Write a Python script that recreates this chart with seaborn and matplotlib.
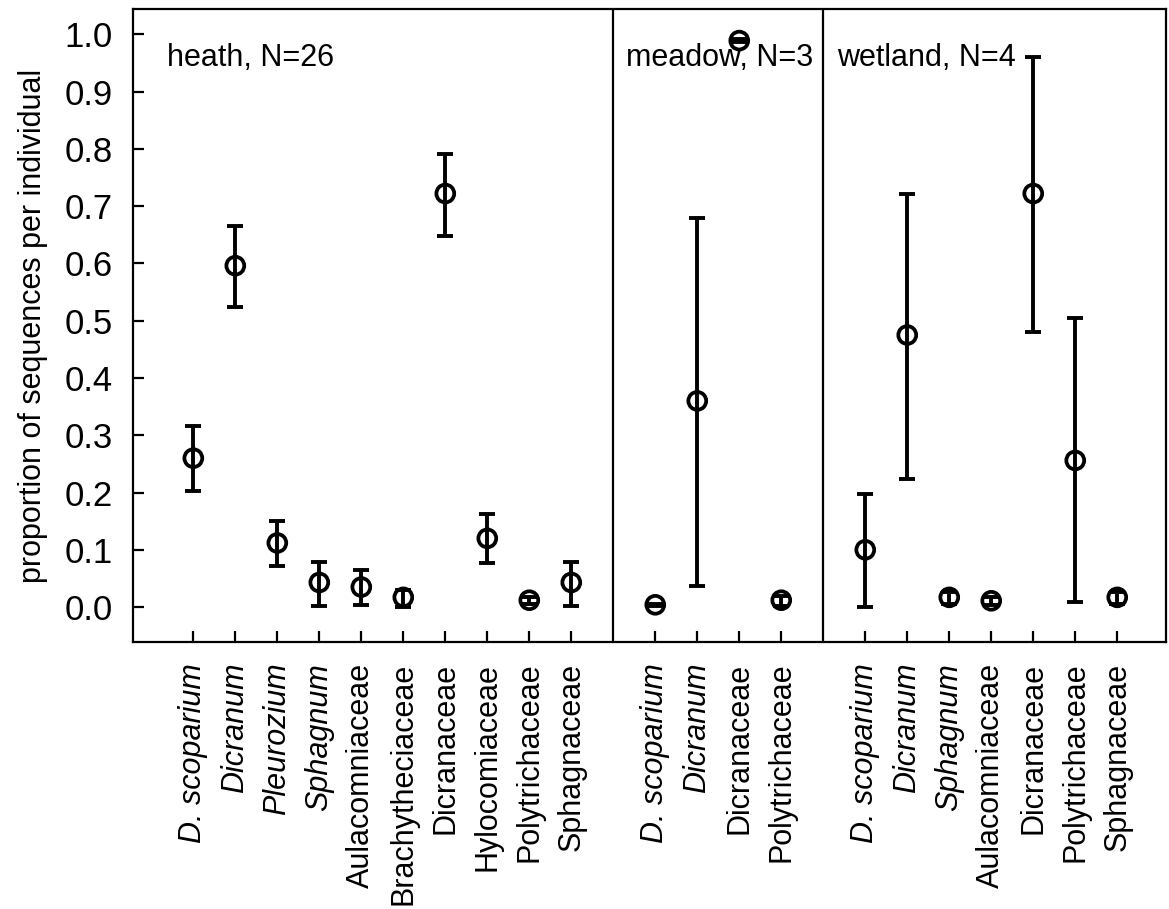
import numpy as np
import pandas as pd
import matplotlib
matplotlib.use("Agg")
import matplotlib.pyplot as plt
import seaborn as sns

# ---- data ----
heath_cats = ["D. scoparium", "Dicranum", "Pleurozium", "Sphagnum", "Aulacomniaceae",
              "Brachytheciaceae", "Dicranaceae", "Hylocomiaceae", "Polytrichaceae", "Sphagnaceae"]
heath_mean = [0.260, 0.596, 0.112, 0.043, 0.035, 0.017, 0.722, 0.120, 0.012, 0.043]
heath_lo = [0.202, 0.524, 0.072, 0.002, 0.004, 0.001, 0.647, 0.077, 0.006, 0.002]
heath_hi = [0.316, 0.666, 0.150, 0.078, 0.064, 0.030, 0.791, 0.162, 0.017, 0.079]

meadow_cats = ["D. scoparium", "Dicranum", "Dicranaceae", "Polytrichaceae"]
meadow_mean = [0.004, 0.360, 0.989, 0.012]
meadow_lo = [0.002, 0.037, 0.986, 0.002]
meadow_hi = [0.006, 0.679, 0.992, 0.020]

wetland_cats = ["D. scoparium", "Dicranum", "Sphagnum", "Aulacomniaceae",
                "Dicranaceae", "Polytrichaceae", "Sphagnaceae"]
wetland_mean = [0.100, 0.475, 0.017, 0.011, 0.722, 0.256, 0.017]
wetland_lo = [0.000, 0.224, 0.006, 0.004, 0.480, 0.009, 0.006]
wetland_hi = [0.197, 0.721, 0.027, 0.017, 0.961, 0.504, 0.027]

habitats = ["heath", "meadow", "wetland"]
habitat_n = [26, 3, 4]
y_ticks = [0.0, 0.1, 0.2, 0.3, 0.4, 0.5, 0.6, 0.7, 0.8, 0.9, 1.0]
y_label = "proportion of sequences per individual"

# ---- build table ----
groups = [(heath_cats, heath_mean, heath_lo, heath_hi),
          (meadow_cats, meadow_mean, meadow_lo, meadow_hi),
          (wetland_cats, wetland_mean, wetland_lo, wetland_hi)]
rows = []
dividers = []
starts = []
pos = 1
for gi, (cats, m, lo, hi) in enumerate(groups):
    starts.append(pos)
    for c, mm, l, h in zip(cats, m, lo, hi):
        rows.append(dict(habitat=habitats[gi], taxon=c, x=pos, mean=mm, lo=l, hi=h))
        pos += 1
    dividers.append(pos)
    pos += 1
df = pd.DataFrame(rows)

sns.set_theme(style="ticks")
plt.rcParams['font.family'] = ['Liberation Sans', 'DejaVu Sans']
plt.rcParams['text.color'] = 'black'
plt.rcParams['axes.labelcolor'] = 'black'
plt.rcParams['xtick.color'] = 'black'
plt.rcParams['ytick.color'] = 'black'

fig = plt.figure(figsize=(11.69, 9.09), dpi=100)
ax = fig.add_axes([0.114, 0.2937, 0.9974 - 0.114, 0.990 - 0.2937])

ax.errorbar(df["x"], df["mean"], yerr=[df["mean"] - df["lo"], df["hi"] - df["mean"]],
            fmt="none", ecolor="black", elinewidth=2.8, capsize=5.5, capthick=2.8, zorder=2)
sns.scatterplot(data=df, x="x", y="mean", ax=ax, marker="o", s=165,
                facecolor="none", edgecolor="black", linewidth=2.7, zorder=3, legend=False)

for d in dividers[:-1]:
    ax.axvline(d, color="black", lw=1.6, zorder=1)

ax.set_xlim(-0.43, 24.16)
ax.set_ylim(-0.061, 1.044)

ax.set_xticks(df["x"].tolist())
ax.set_xticklabels(df["taxon"].tolist(), rotation=90, fontsize=22, va="top")
for lab, t in zip(ax.get_xticklabels(), df["taxon"]):
    if not t.endswith("aceae"):
        lab.set_fontstyle("italic")
ax.set_yticks(y_ticks)
ax.set_yticklabels([f"{v:.1f}" for v in y_ticks], fontsize=25)

ax.tick_params(axis="both", direction="in", length=8, width=1.6, color="black", labelcolor="black")
ax.tick_params(axis="x", pad=15)
ax.tick_params(axis="y", pad=15)
for s in ax.spines.values():
    s.set_visible(True)
    s.set_linewidth(1.6)
    s.set_color("black")

ax.set_xlabel("")
ax.set_ylabel(y_label, fontsize=22, labelpad=12)

label_x = [starts[0] - 0.63, dividers[0] + 0.31, dividers[1] + 0.32]
for hx, h, n in zip(label_x, habitats, habitat_n):
    ax.text(hx, 0.958, f"{h}, N={n}", fontsize=22, va="center", ha="left", color="black")

fig.savefig("out.png", dpi=100)
